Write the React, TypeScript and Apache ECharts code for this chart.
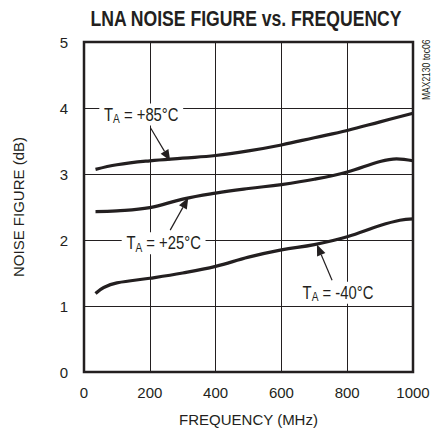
import React, { useEffect, useRef } from "react";
import * as echarts from "echarts";

const freqs85 = [35, 100, 200, 300, 400, 500, 600, 700, 800, 900, 1000];
const nf85 = [3.07, 3.14, 3.2, 3.24, 3.28, 3.35, 3.44, 3.55, 3.66, 3.79, 3.92];
const freqs25 = [35, 100, 200, 300, 400, 500, 600, 700, 800, 900, 950, 1000];
const nf25 = [2.43, 2.44, 2.49, 2.62, 2.71, 2.78, 2.84, 2.92, 3.03, 3.19, 3.23, 3.2];
const freqs40 = [35, 60, 100, 200, 300, 400, 500, 600, 700, 800, 900, 960, 1000];
const nf40 = [1.19, 1.28, 1.35, 1.42, 1.5, 1.6, 1.74, 1.85, 1.93, 2.05, 2.22, 2.3, 2.32];
const xTicks = [0, 200, 400, 600, 800, 1000];
const yTicks = [0, 1, 2, 3, 4, 5];

const labels = [
  { temp: "+85°C", at: [174, 3.9], from: [202, 3.7], to: [262, 3.2] },
  { temp: "+25°C", at: [242, 1.95], from: [262, 2.15], to: [317, 2.64] },
  { temp: "-40°C", at: [772, 1.2], from: [754, 1.39], to: [708, 1.93] },
];

const FONT = "'Liberation Sans', Arial, sans-serif";
const INK = "#231f20";

export default function App() {
  const ref = useRef<HTMLDivElement>(null);
  useEffect(() => {
    if (!ref.current) return;
    document.body.style.margin = "0";
    const chart = echarts.init(ref.current, null, { renderer: "svg" });
    const mk = (xs: number[], ys: number[]) => xs.map((x, i) => [x, ys[i]]);
    const line = (data: number[][]) => ({
      type: "line",
      data,
      smooth: 0.4,
      showSymbol: false,
      lineStyle: { color: INK, width: 3.2 },
      silent: true,
    });
    chart.setOption({
      animation: false,
      grid: { left: 84, right: 27, top: 42, bottom: 61, show: true, borderColor: INK, borderWidth: 2.5, backgroundColor: "transparent" },
      xAxis: {
        type: "value",
        min: xTicks[0],
        max: xTicks[xTicks.length - 1],
        interval: 200,
        name: "FREQUENCY (MHz)",
        nameLocation: "middle",
        nameGap: 40,
        nameTextStyle: { fontFamily: FONT, fontSize: 15, color: INK },
        axisLine: { show: false },
        axisTick: { show: false },
        axisLabel: { fontFamily: FONT, fontSize: 15, color: INK, margin: 13, formatter: (v: number) => String(v) },
        splitLine: { show: true, lineStyle: { color: INK, width: 1 } },
      },
      yAxis: {
        type: "value",
        min: yTicks[0],
        max: yTicks[yTicks.length - 1],
        interval: 1,
        name: "NOISE FIGURE (dB)",
        nameLocation: "middle",
        nameGap: 58,
        nameRotate: 90,
        nameTextStyle: { fontFamily: FONT, fontSize: 15, color: INK },
        axisLine: { show: false },
        axisTick: { show: false },
        axisLabel: { fontFamily: FONT, fontSize: 15, color: INK, margin: 16 },
        splitLine: { show: true, lineStyle: { color: INK, width: 1 } },
      },
      series: [line(mk(freqs85, nf85)), line(mk(freqs25, nf25)), line(mk(freqs40, nf40))],
    });

    const px = (p: number[]) => chart.convertToPixel({ gridIndex: 0 }, p) as number[];
    const graphics: any[] = [];
    graphics.push({
      type: "text",
      x: 246,
      y: 18,
      scaleX: 0.8,
      style: {
        text: "LNA NOISE FIGURE vs. FREQUENCY",
        fontFamily: FONT,
        fontWeight: "bold",
        fontSize: 22,
        fill: INK,
        align: "center",
        verticalAlign: "middle",
      },
    });
    labels.forEach((l) => {
      const c = px(l.at);
      const a = px(l.from);
      const b = px(l.to);
      const dx = b[0] - a[0];
      const dy = b[1] - a[1];
      const len = Math.hypot(dx, dy);
      const ux = dx / len, uy = dy / len;
      const hl = 11, hw = 4.5;
      const base = [b[0] - ux * hl, b[1] - uy * hl];
      graphics.push({
        type: "line",
        shape: { x1: a[0], y1: a[1], x2: base[0], y2: base[1] },
        style: { stroke: INK, lineWidth: 1.2 },
        z: 10,
      });
      graphics.push({
        type: "polygon",
        shape: {
          points: [
            [b[0], b[1]],
            [base[0] - uy * hw, base[1] + ux * hw],
            [base[0] + uy * hw, base[1] - ux * hw],
          ],
        },
        style: { fill: INK },
        z: 10,
      });
      graphics.push({
        type: "text",
        x: c[0],
        y: c[1],
        scaleX: 0.78,
        z: 11,
        style: {
          text: "{t|T}{s|A}{t| = " + l.temp + "}",
          align: "center",
          verticalAlign: "middle",
          backgroundColor: "#fff",
          padding: [1, 6, 1, 6],
          rich: {
            t: { fontFamily: FONT, fontSize: 19, fill: INK, color: INK, lineHeight: 20 },
            s: { fontFamily: FONT, fontSize: 13, fill: INK, color: INK, lineHeight: 20, padding: [7, 0, 0, 0] },
          },
        },
      });
    });
    graphics.push({
      type: "text",
      x: 427,
      y: 100,
      rotation: Math.PI / 2,
      scaleX: 0.85,
      style: { text: "MAX2130 toc06", fontFamily: FONT, fontSize: 10, fill: INK, align: "left", verticalAlign: "middle" },
    });
    chart.setOption({ graphic: graphics });
    return () => chart.dispose();
  }, []);
  return <div ref={ref} style={{ width: 440, height: 433 }} />;
}
